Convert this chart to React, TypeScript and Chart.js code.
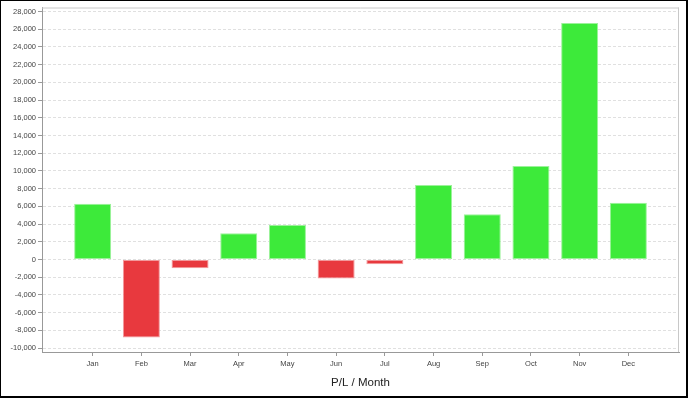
import React, { useEffect, useRef } from "react";
import { Chart, registerables } from "chart.js";

Chart.register(...registerables);

const months = ["Jan", "Feb", "Mar", "Apr", "May", "Jun", "Jul", "Aug", "Sep", "Oct", "Nov", "Dec"];
const pl = [6300, -8800, -1000, 2950, 3900, -2150, -550, 8400, 5100, 10550, 26700, 6400];
const yTickValues = [-10000, -8000, -6000, -4000, -2000, 0, 2000, 4000, 6000, 8000, 10000, 12000, 14000, 16000, 18000, 20000, 22000, 24000, 26000, 28000];
const axisTitle = "P/L / Month";

const GREEN = "#3dea3a";
const GREEN_EDGE = "#9cf29a";
const RED = "#e8393e";
const RED_EDGE = "#f29a9c";
const FONT = "'Liberation Sans', Arial, sans-serif";

const frameLines = {
  id: "frameLines",
  afterDraw(chart: any) {
    const { ctx, chartArea } = chart;
    ctx.save();
    ctx.strokeStyle = "#c8c8c8";
    ctx.lineWidth = 1;
    ctx.beginPath();
    ctx.moveTo(chartArea.left, chartArea.top + 0.5);
    ctx.lineTo(chartArea.right, chartArea.top + 0.5);
    ctx.moveTo(chartArea.right - 0.5, chartArea.top);
    ctx.lineTo(chartArea.right - 0.5, chartArea.bottom);
    ctx.stroke();
    ctx.restore();
  },
};

export default function App() {
  const ref = useRef<HTMLCanvasElement | null>(null);

  useEffect(() => {
    document.body.style.margin = "0";
    const canvas = ref.current;
    if (!canvas) return;
    const chart = new Chart(canvas, {
      type: "bar",
      data: {
        datasets: [
          {
            data: pl.map((v, i) => ({ x: i, y: v })),
            backgroundColor: pl.map((v) => (v >= 0 ? GREEN : RED)),
            borderColor: pl.map((v) => (v >= 0 ? GREEN_EDGE : RED_EDGE)),
            borderWidth: 1,
            borderSkipped: false,
            barPercentage: 0.76,
            categoryPercentage: 1,
          },
        ],
      },
      plugins: [frameLines],
      options: {
        responsive: false,
        animation: false,
        devicePixelRatio: 1,
        layout: { padding: { left: 0, top: 6, right: 7, bottom: 0 } },
        plugins: {
          legend: { display: false },
          tooltip: { enabled: false },
          title: { display: false },
        },
        scales: {
          x: {
            type: "linear",
            offset: false,
            min: -1.04,
            max: 12.04,
            afterBuildTicks(scale: any) {
              scale.ticks = months.map((_, i) => ({ value: i }));
            },
            afterFit(scale: any) {
              scale.height = 44;
            },
            ticks: {
              callback: (v: any) => months[Math.round(Number(v))] ?? "",
              font: { family: FONT, size: 7.5 },
              color: "#444",
              padding: 3,
              maxRotation: 0,
              autoSkip: false,
            },
            grid: {
              offset: false,
              color: "rgba(0,0,0,0)",
              drawOnChartArea: false,
              drawTicks: true,
              tickLength: 4,
              tickColor: "#999",
            },
            border: { display: true, color: "#999", width: 1 },
            title: {
              display: true,
              text: axisTitle,
              font: { family: FONT, size: 11.5 },
              color: "#222",
              padding: { top: 0, bottom: 6 },
            },
          },
          y: {
            type: "linear",
            min: -10450,
            max: 28450,
            afterBuildTicks(scale: any) {
              scale.ticks = yTickValues.map((v) => ({ value: v }));
            },
            afterFit(scale: any) {
              scale.width = 41;
            },
            ticks: {
              callback: (v: any) => Number(v).toLocaleString("en-US"),
              font: { family: FONT, size: 7.5 },
              color: "#444",
              padding: 2,
              autoSkip: false,
            },
            grid: {
              color: "#e0e0e0",
              tickLength: 4,
              tickColor: "#999",
              tickBorderDash: [],
            } as any,
            border: { display: true, color: "#999", width: 1, dash: [3, 2] },
          },
        },
      } as any,
    });
    return () => chart.destroy();
  }, []);

  return (
    <div
      style={{
        position: "absolute",
        left: 0,
        top: 0,
        width: 688,
        height: 398,
        boxSizing: "border-box",
        borderStyle: "solid",
        borderColor: "#000",
        borderWidth: "1px 2px 2px 1px",
        background: "#fff",
      }}
    >
      <canvas ref={ref} width={685} height={395} style={{ display: "block" }} />
    </div>
  );
}
